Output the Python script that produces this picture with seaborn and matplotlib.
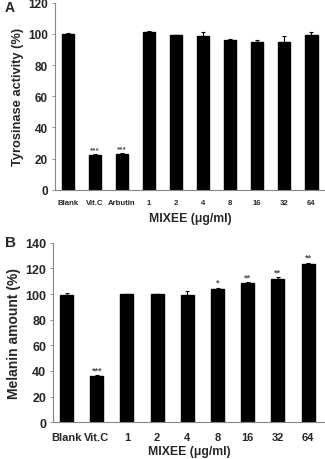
import matplotlib
matplotlib.use("Agg")
import matplotlib.pyplot as plt
import seaborn as sns
import pandas as pd

sns.set_theme(style="white")
plt.rcParams['font.family'] = ['Liberation Sans', 'DejaVu Sans']
plt.rcParams['font.weight'] = 'bold'

# Panel A data
cats_a = ["Blank", "Vit.C", "Arbutin", "1", "2", "4", "8", "16", "32", "64"]
vals_a = [100, 22.5, 23, 101, 99.3, 98.5, 96, 95, 94.5, 99.2]
errs_a = [0.3, 0.8, 0.6, 1.0, 0.3, 2.5, 1.0, 1.0, 4.0, 1.8]
sig_a = ["", "***", "***", "", "", "", "", "", "", ""]

# Panel B data
cats_b = ["Blank", "Vit.C", "1", "2", "4", "8", "16", "32", "64"]
vals_b = [99.5, 36, 100, 100, 99.5, 104, 108.5, 112, 123.5]
errs_b = [1.0, 1.0, 0.4, 0.4, 2.5, 1.0, 1.0, 1.5, 1.0]
sig_b = ["", "***", "", "", "", "*", "**", "**", "**"]

fig = plt.figure(figsize=(3.25, 4.60), dpi=100)
ax_a = fig.add_axes([0.169, 0.585, 0.831, 0.407])
ax_b = fig.add_axes([0.163, 0.080, 0.837, 0.390])


def draw(ax, cats, vals, errs, sig, ylim, yticks, ylabel, ylab_size,
         ytick_size, xtick_size, xtick_pad, xlab_pad, width, xlim, sig_size):
    df = pd.DataFrame({"cat": cats, "val": vals})
    sns.barplot(data=df, x="cat", y="val", order=cats, color="black",
                width=width, errorbar=None, ax=ax, edgecolor="black",
                saturation=1)
    centers = [p.get_x() + p.get_width() / 2 for p in ax.patches]
    ax.errorbar(centers, vals, yerr=[[0] * len(errs), errs], fmt="none",
                ecolor="black", elinewidth=0.8, capsize=1.5, capthick=0.8)
    for c, v, e, s in zip(centers, vals, errs, sig):
        if s:
            ax.text(c, v + e + 0.5, s, ha="center", va="bottom",
                    fontsize=sig_size, color="#555555")
    ax.set_ylim(*ylim)
    ax.set_yticks(yticks)
    ax.set_xlim(*xlim)
    ax.set_ylabel(ylabel, fontsize=ylab_size, fontweight="bold", labelpad=3)
    ax.set_xlabel("MIXEE (μg/ml)", fontsize=8.8, fontweight="bold",
                  labelpad=xlab_pad)
    for sp in ["top", "right"]:
        ax.spines[sp].set_visible(False)
    for sp in ["left", "bottom"]:
        ax.spines[sp].set_color("#888888")
        ax.spines[sp].set_linewidth(0.8)
    ax.tick_params(axis="y", left=True, length=2, width=0.6, color="#888888",
                   labelsize=ytick_size, pad=3)
    ax.tick_params(axis="x", bottom=False, labelsize=xtick_size, pad=xtick_pad)
    for lab in ax.get_xticklabels() + ax.get_yticklabels():
        lab.set_fontweight("bold")


draw(ax_a, cats_a, vals_a, errs_a, sig_a, (0, 120), range(0, 121, 20),
     "Tyrosinase activity (%)", 9.3, 8.5, 5.6, 0.5, 4.5, 0.45, (-0.47, 9.5), 6)
draw(ax_b, cats_b, vals_b, errs_b, sig_b, (0, 140), range(0, 141, 20),
     "Melanin amount (%)", 10.0, 9.0, 8.0, 1.0, 2.5, 0.43, (-0.45, 8.56), 6.5)

fig.text(0.015, 0.998, "A", fontsize=10, fontweight="bold", va="top")
fig.text(0.015, 0.488, "B", fontsize=11, fontweight="bold", va="top")

fig.savefig("out.png", dpi=100)
